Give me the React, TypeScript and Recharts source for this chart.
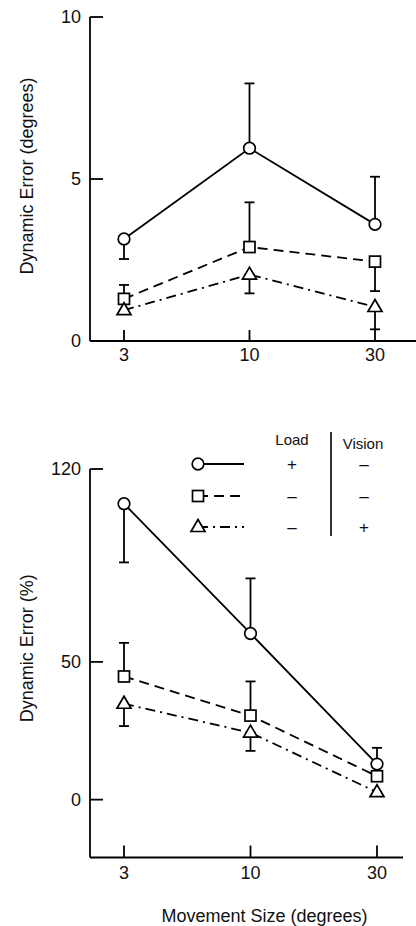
import { ErrorBar, Label, Line, LineChart, XAxis, YAxis } from "recharts";

// movement sizes (degrees)
const sizes = ["3", "10", "30"];

// top panel: dynamic error in degrees
const loadDeg = [3.15, 5.95, 3.6];
const loadDegErr = [[0.62, 0], [0, 2.0], [0, 1.47]];
const noLoadDeg = [1.3, 2.9, 2.45];
const noLoadDegErr = [[0, 0.43], [0, 1.38], [0.91, 0]];
const visionDeg = [0.95, 2.05, 1.05];
const visionDegErr = [[0, 0], [0.58, 0], [0.69, 0]];
const degTicks = [0, 5, 10];

// bottom panel: dynamic error in % of movement
const loadPct = [107.4, 60.3, 12.9];
const loadPctErr = [[21.3, 0], [0, 20], [0, 5.9]];
const noLoadPct = [44.7, 30.5, 8.5];
const noLoadPctErr = [[0, 12.2], [0, 12.4], [0, 0]];
const visionPct = [34.8, 24.3, 2.7];
const visionPctErr = [[8.1, 0], [6.6, 0], [0, 0]];
const pctTicks = [0, 50, 120];

// legend table
const loadSigns = ["+", "–", "–"];
const visionSigns = ["–", "–", "+"];

const FONT = "'Liberation Sans', Arial, Helvetica, sans-serif";
const INK = "#111";

const series = [
	{ key: "load", shape: "circle", dash: undefined },
	{ key: "noLoad", shape: "square", dash: "10 6" },
	{ key: "vision", shape: "triangle", dash: "10 5 2 5" },
];

const degData = sizes.map((s, i) => ({
	size: s,
	load: loadDeg[i],
	loadErr: loadDegErr[i],
	noLoad: noLoadDeg[i],
	noLoadErr: noLoadDegErr[i],
	vision: visionDeg[i],
	visionErr: visionDegErr[i],
}));

const pctData = sizes.map((s, i) => ({
	size: s,
	load: loadPct[i],
	loadErr: loadPctErr[i],
	noLoad: noLoadPct[i],
	noLoadErr: noLoadPctErr[i],
	vision: visionPct[i],
	visionErr: visionPctErr[i],
}));

function Marker({ shape, cx, cy }: { shape: string; cx: number; cy: number }) {
	const common = { fill: "#fff", stroke: "#000", strokeWidth: 1.7 };
	if (shape === "circle") return <circle cx={cx} cy={cy} r={5.8} {...common} />;
	if (shape === "square")
		return <rect x={cx - 5.5} y={cy - 5.5} width={11} height={11} {...common} />;
	return (
		<polygon
			points={`${cx},${cy - 7.5} ${cx + 7},${cy + 4.5} ${cx - 7},${cy + 4.5}`}
			{...common}
		/>
	);
}

const axisLine = { stroke: "#000", strokeWidth: 1.8 };
const tickStyle = { fill: INK, fontSize: 18, fontFamily: FONT };

function renderSeries() {
	return series.map((s) => (
		<Line
			key={s.key}
			dataKey={s.key}
			stroke="#000"
			strokeWidth={1.8}
			strokeDasharray={s.dash}
			isAnimationActive={false}
			dot={(p: any) => (
				<Marker key={`${s.key}-${p.index}`} shape={s.shape} cx={p.cx} cy={p.cy} />
			)}
			activeDot={false}
		>
			<ErrorBar
				dataKey={`${s.key}Err`}
				direction="y"
				width={5}
				stroke="#000"
				strokeWidth={1.8}
				isAnimationActive={false}
			/>
		</Line>
	));
}

function LegendTable() {
	const rows = [64, 96, 127];
	return (
		<svg
			width={416}
			height={150}
			style={{ position: "absolute", left: 0, top: 400 }}
			fontFamily={FONT}
		>
			<text x={292} y={45} textAnchor="middle" fontSize={15} fill={INK}>
				Load
			</text>
			<text x={363} y={49} textAnchor="middle" fontSize={15} fill={INK}>
				Vision
			</text>
			<line x1={331} y1={32} x2={331} y2={136} stroke="#000" strokeWidth={1.6} />
			{series.map((s, i) => (
				<g key={s.key}>
					<line
						x1={198}
						y1={rows[i]}
						x2={244}
						y2={rows[i]}
						stroke="#000"
						strokeWidth={1.8}
						strokeDasharray={s.dash}
					/>
					<Marker shape={s.shape} cx={198} cy={rows[i]} />
					<text x={292} y={rows[i] + 6} textAnchor="middle" fontSize={17} fill={INK}>
						{loadSigns[i]}
					</text>
					<text x={364} y={rows[i] + 6} textAnchor="middle" fontSize={17} fill={INK}>
						{visionSigns[i]}
					</text>
				</g>
			))}
		</svg>
	);
}

export default function App() {
	return (
		<div
			style={{
				position: "absolute",
				left: 0,
				top: 0,
				width: 416,
				height: 926,
				background: "#fff",
				fontFamily: FONT,
			}}
		>
			<div style={{ position: "absolute", left: 0, top: 0 }}>
				<LineChart
					width={416}
					height={370}
					data={degData}
					margin={{ top: 17, right: 0, left: 0, bottom: 0 }}
				>
					<XAxis
						dataKey="size"
						height={29}
						padding={{ left: 34, right: 41 }}
						axisLine={axisLine}
						tickLine={axisLine}
						tickSize={-11}
						tickMargin={18}
						tick={tickStyle}
					/>
					<YAxis
						width={90}
						domain={[0, 10]}
						ticks={degTicks}
						axisLine={axisLine}
						tickLine={axisLine}
						tickSize={-13}
						tickMargin={22}
						tick={tickStyle}
					>
						<Label
							value="Dynamic Error (degrees)"
							angle={-90}
							position="center"
							dx={-18}
							dy={-3}
							style={{ fill: INK, fontSize: 18, fontFamily: FONT }}
						/>
					</YAxis>
					{renderSeries()}
				</LineChart>
			</div>
			<div style={{ position: "absolute", left: 0, top: 400 }}>
				<LineChart
					width={416}
					height={526}
					data={pctData}
					margin={{ top: 69, right: 13, left: 0, bottom: 0 }}
				>
					<XAxis
						dataKey="size"
						height={68.5}
						padding={{ left: 34, right: 26 }}
						axisLine={axisLine}
						tickLine={axisLine}
						tickSize={-12}
						tickMargin={21}
						tick={tickStyle}
					>
						<Label
							value="Movement Size (degrees)"
							position="insideBottom"
							offset={4}
							dx={18}
							style={{ fill: INK, fontSize: 18, fontFamily: FONT }}
						/>
					</XAxis>
					<YAxis
						width={90}
						domain={[-21, 120]}
						ticks={pctTicks}
						axisLine={axisLine}
						tickLine={axisLine}
						tickSize={-13}
						tickMargin={22}
						tick={tickStyle}
					>
						<Label
							value="Dynamic Error (%)"
							angle={-90}
							position="center"
							dx={-18}
							dy={-15}
							style={{ fill: INK, fontSize: 18, fontFamily: FONT }}
						/>
					</YAxis>
					{renderSeries()}
				</LineChart>
			</div>
			<LegendTable />
		</div>
	);
}
